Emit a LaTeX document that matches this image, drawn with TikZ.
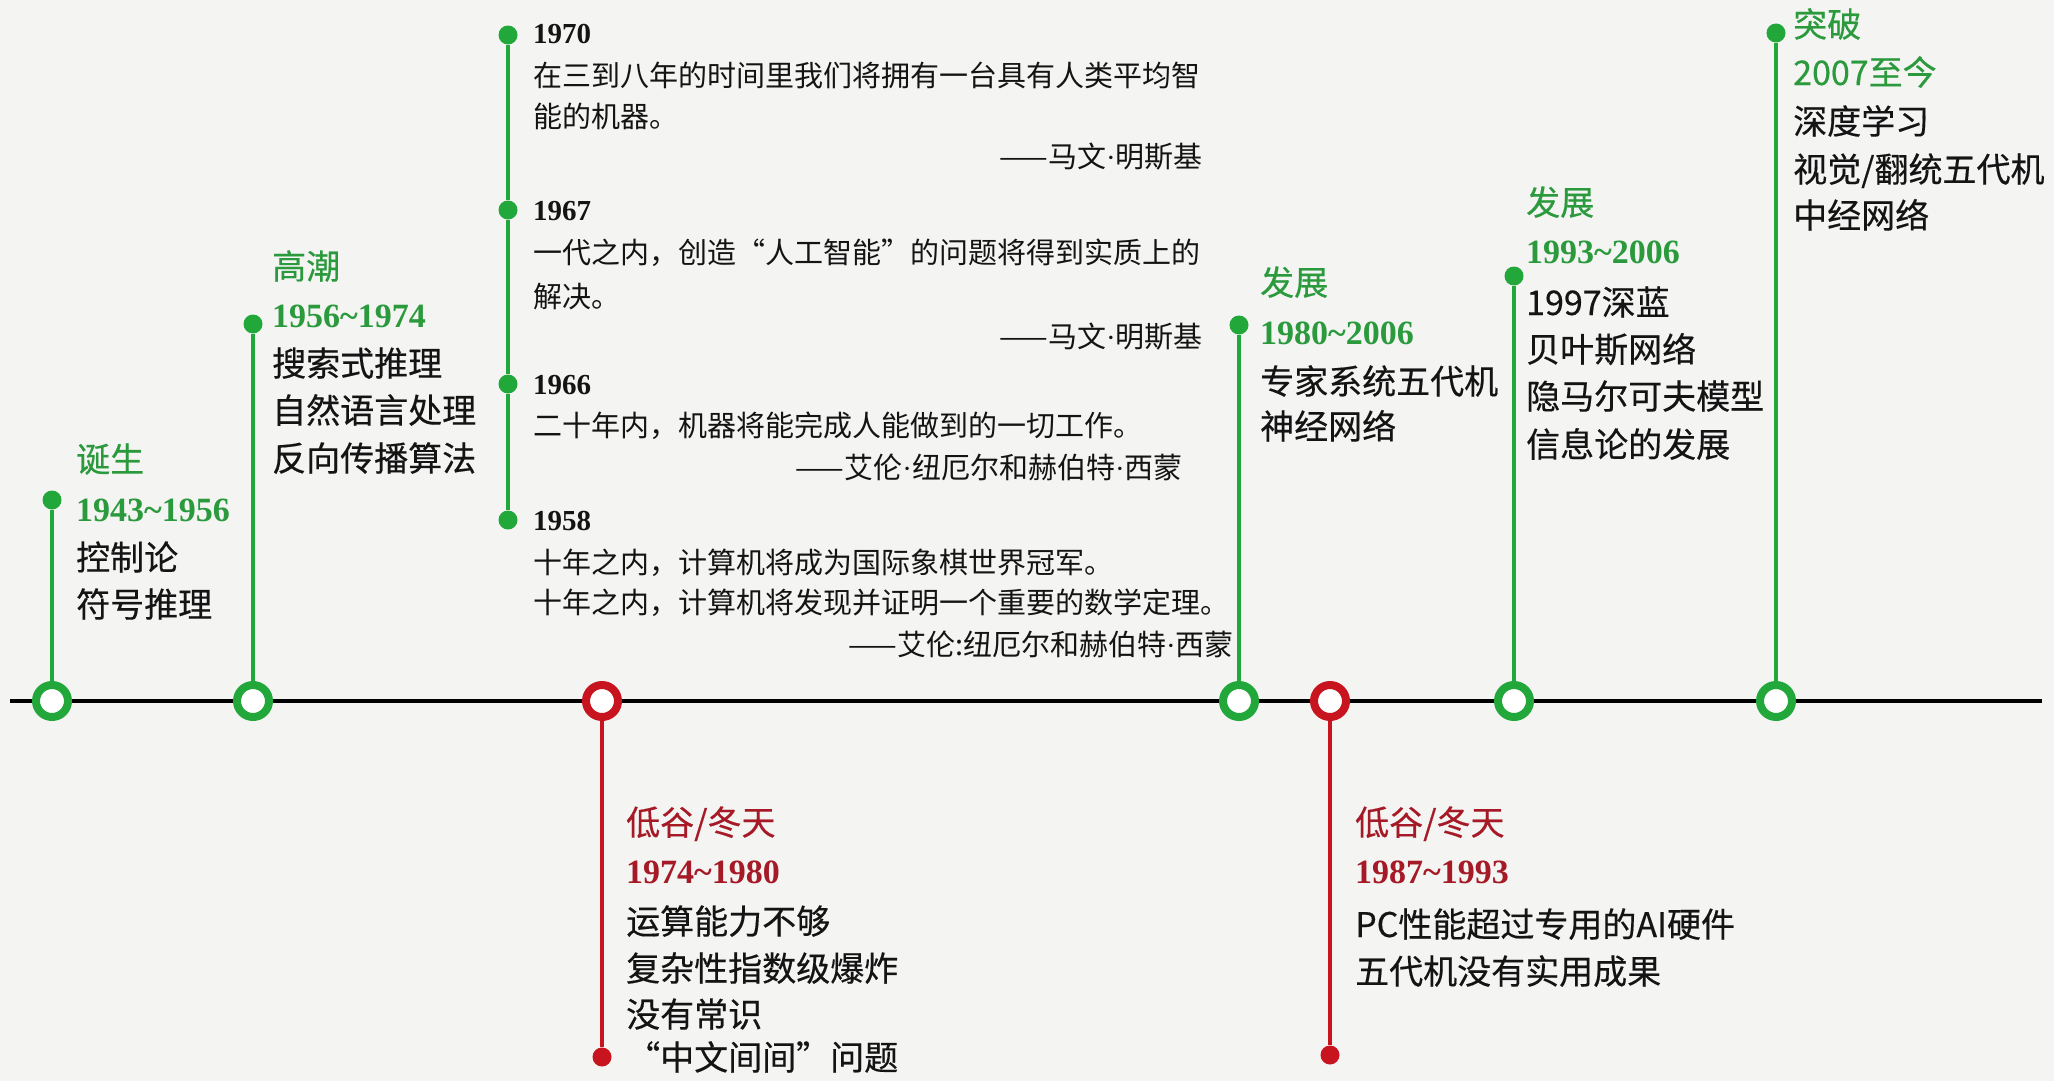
\documentclass[tikz,border=0pt]{standalone}
\usepackage{fontspec}
\setmainfont{Liberation Serif}
\newfontfamily\cjk{Noto Sans CJK SC}
\newfontfamily\cjkm{Noto Sans CJK SC}[FakeBold=0.4]
\newfontfamily\latn{Liberation Serif}
\newcommand\nmdot{{\latn ·}}
\definecolor{bgc}{HTML}{F4F4F3}
\definecolor{gline}{HTML}{22A83A}
\definecolor{rline}{HTML}{C8141E}
\definecolor{gtext}{HTML}{2A9A3C}
\definecolor{rtext}{HTML}{A51A26}
\definecolor{ink}{HTML}{141414}
\tikzset{
  axisline/.style={line width=3.5pt, draw=black},
  gstem/.style={line width=3.5pt, draw=gline},
  rstem/.style={line width=3.5pt, draw=rline},
  gring/.style={circle, minimum size=32pt, inner sep=0pt, line width=8pt, draw=gline, fill=white},
  rring/.style={circle, minimum size=32pt, inner sep=0pt, line width=8pt, draw=rline, fill=white},
  gdot/.style={circle, minimum size=19pt, inner sep=0pt, fill=gline},
  rdot/.style={circle, minimum size=19pt, inner sep=0pt, fill=rline},
  qt/.style={anchor=base west, inner sep=0pt, font=\cjk\fontsize{29}{34}\selectfont, text=ink},
  qyr/.style={anchor=base west, inner sep=0pt, font=\bfseries\fontsize{29}{34}\selectfont, text=ink},
  qsig/.style={anchor=base east, inner sep=0pt, font=\cjk\fontsize{29}{34}\selectfont, text=ink},
  body/.style={anchor=base west, inner sep=0pt, font=\cjkm\fontsize{34}{40}\selectfont, text=ink},
  headg/.style={body, text=gtext},
  headr/.style={body, text=rtext},
  yrg/.style={anchor=base west, inner sep=0pt, font=\bfseries\fontsize{34}{40}\selectfont, text=gtext},
  yrr/.style={anchor=base west, inner sep=0pt, font=\bfseries\fontsize{34}{40}\selectfont, text=rtext},
}
\begin{document}
\begin{tikzpicture}[x=1pt,y=-1pt]
\fill[bgc] (0,0) rectangle (2054,1081);
\useasboundingbox (0,0) rectangle (2054,1081);

% axis
\coordinate (axL) at (10,701);
\coordinate (axR) at (2042,701);
\draw[axisline] (axL) -- (axR);

% stems and dots
\node[gdot] (d1) at (52,500) {};
\node[gdot] (d2) at (253,324) {};
\node[rdot] (d3) at (602,1057) {};
\node[gdot] (d4) at (1239,325) {};
\node[rdot] (d5) at (1330,1055) {};
\node[gdot] (d6) at (1514,276) {};
\node[gdot] (d7) at (1776,33) {};

\node[gring] (r1) at (52,701) {};
\node[gring] (r2) at (253,701) {};
\node[rring] (r3) at (602,701) {};
\node[gring] (r4) at (1239,701) {};
\node[rring] (r5) at (1330,701) {};
\node[gring] (r6) at (1514,701) {};
\node[gring] (r7) at (1776,701) {};

\draw[gstem] (d1) -- (r1);
\draw[gstem] (d2) -- (r2);
\draw[rstem] (d3) -- (r3);
\draw[gstem] (d4) -- (r4);
\draw[rstem] (d5) -- (r5);
\draw[gstem] (d6) -- (r6);
\draw[gstem] (d7) -- (r7);

% quote stem
\node[gdot] (q1) at (508,35) {};
\node[gdot] (q2) at (508,210) {};
\node[gdot] (q3) at (508,384) {};
\node[gdot] (q4) at (508,520) {};
\draw[gstem] (q1) -- (q2);
\draw[gstem] (q2) -- (q3);
\draw[gstem] (q3) -- (q4);

% quotes
\node[qyr] (y1970) at (533,44) {1970};
\node[qt] (t1970a) at (533,86) {在三到八年的时间里我们将拥有一台具有人类平均智};
\node[qt] (t1970b) at (533,128) {能的机器。};
\node[qsig] (s1970) at (1203,167) {——马文\nmdot 明斯基};
\node[qyr] (y1967) at (533,220) {1967};
\node[qt] (t1967a) at (533,263) {一代之内，创造“人工智能”的问题将得到实质上的};
\node[qt] (t1967b) at (533,307) {解决。};
\node[qsig] (s1967) at (1203,347) {——马文\nmdot 明斯基};
\node[qyr] (y1966) at (533,394) {1966};
\node[qt] (t1966a) at (533,436) {二十年内，机器将能完成人能做到的一切工作。};
\node[qsig] (s1966) at (1183,478) {——艾伦\nmdot 纽厄尔和赫伯特\nmdot 西蒙};
\node[qyr] (y1958) at (533,530) {1958};
\node[qt] (t1958a) at (533,573) {十年之内，计算机将成为国际象棋世界冠军。};
\node[qt] (t1958b) at (533,613) {十年之内，计算机将发现并证明一个重要的数学定理。};
\node[qsig] (s1958) at (1234,655) {——艾伦:纽厄尔和赫伯特\nmdot 西蒙};

% column 1
\node[headg] (h1) at (76,472) {诞生};
\node[yrg] (p1) at (76,521) {1943\textasciitilde1956};
\node[body] (b1a) at (76,570) {控制论};
\node[body] (b1b) at (76,617) {符号推理};

% column 2
\node[headg] (h2) at (272,279) {高潮};
\node[yrg] (p2) at (272,327) {1956\textasciitilde1974};
\node[body] (b2a) at (272,376) {搜索式推理};
\node[body] (b2b) at (272,423) {自然语言处理};
\node[body] (b2c) at (272,471) {反向传播算法};

% column 3
\node[headr] (h3) at (626,835) {低谷/冬天};
\node[yrr] (p3) at (626,883) {1974\textasciitilde1980};
\node[body] (b3a) at (626,934) {运算能力不够};
\node[body] (b3b) at (626,981) {复杂性指数级爆炸};
\node[body] (b3c) at (626,1027) {没有常识};
\node[body] (b3d) at (626,1070) {“中文间间”问题};

% column 4
\node[headg] (h4) at (1260,295) {发展};
\node[yrg] (p4) at (1260,344) {1980\textasciitilde2006};
\node[body] (b4a) at (1260,394) {专家系统五代机};
\node[body] (b4b) at (1260,439) {神经网络};

% column 5
\node[headr] (h5) at (1355,835) {低谷/冬天};
\node[yrr] (p5) at (1355,883) {1987\textasciitilde1993};
\node[body] (b5a) at (1355,937) {PC性能超过专用的AI硬件};
\node[body] (b5b) at (1355,984) {五代机没有实用成果};

% column 6
\node[headg] (h6) at (1526,215) {发展};
\node[yrg] (p6) at (1526,263) {1993\textasciitilde2006};
\node[body] (b6a) at (1526,315) {1997深蓝};
\node[body] (b6b) at (1526,362) {贝叶斯网络};
\node[body] (b6c) at (1526,409) {隐马尔可夫模型};
\node[body] (b6d) at (1526,457) {信息论的发展};

% column 7
\node[headg] (h7) at (1793,37) {突破};
\node[headg] (p7) at (1793,85) {2007至今};
\node[body] (b7a) at (1793,134) {深度学习};
\node[body] (b7b) at (1793,182) {视觉/翻统五代机};
\node[body] (b7c) at (1793,228) {中经网络};
\end{tikzpicture}
\end{document}
